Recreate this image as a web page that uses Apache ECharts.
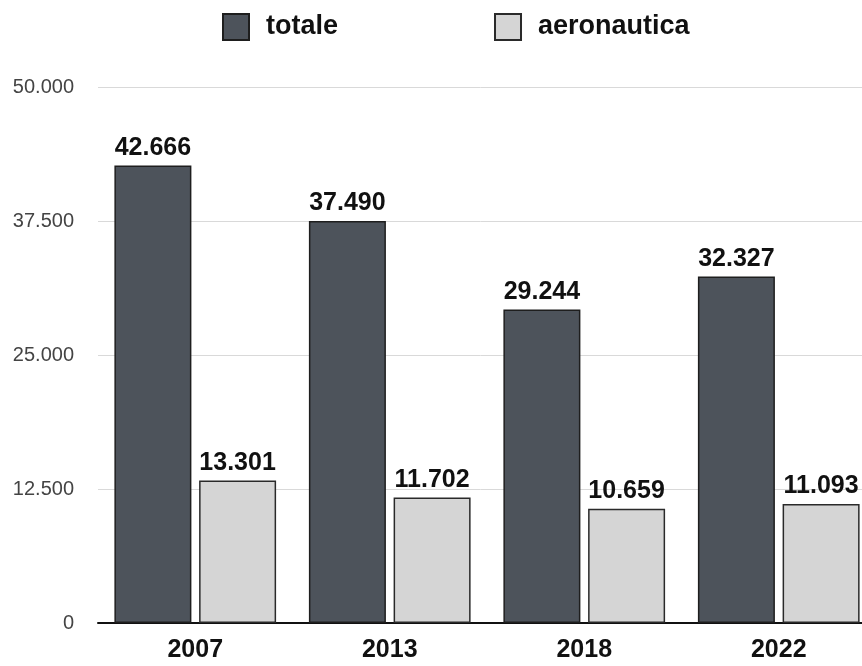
<!DOCTYPE html>
<html>
<head>
<meta charset="utf-8">
<script src="https://cdn.jsdelivr.net/npm/echarts@6/dist/echarts.min.js"></script>
<style>
html,body{margin:0;padding:0;background:#fff;}
#c{width:862px;height:666px;}
</style>
</head>
<body>
<div id="c"></div>
<script>
const categories = ['2007', '2013', '2018', '2022'];
const totale = [42666, 37490, 29244, 32327];
const aeronautica = [13301, 11702, 10659, 11093];
const seriesNames = ['totale', 'aeronautica'];

function fmt(v) {
  return String(Math.round(v)).replace(/\B(?=(\d{3})+(?!\d))/g, '.');
}

const FONT = '"Liberation Sans", Arial, Helvetica, sans-serif';
const chart = echarts.init(document.getElementById('c'));

const labelCfg = {
  show: true,
  position: 'top',
  distance: 5,
  color: '#111',
  fontWeight: 'bold',
  fontSize: 25,
  fontFamily: FONT,
  formatter: p => fmt(p.value)
};

chart.setOption({
  animation: false,
  backgroundColor: '#fff',
  legend: {
    top: 8,
    left: 217,
    itemWidth: 26,
    itemHeight: 26,
    itemGap: 156,
    icon: 'rect',
    data: seriesNames,
    textStyle: {
      fontSize: 27,
      fontWeight: 'bold',
      color: '#111',
      fontFamily: FONT,
      padding: [0, 0, 0, 12]
    }
  },
  grid: {
    left: 98,
    right: -14,
    top: 87,
    bottom: 43,
    outerBoundsMode: 'none',
    containLabel: false
  },
  xAxis: {
    type: 'category',
    data: categories,
    axisLine: { lineStyle: { color: '#111', width: 2 } },
    axisTick: { show: false },
    axisLabel: {
      margin: 15,
      fontSize: 25,
      fontWeight: 'bold',
      color: '#111',
      fontFamily: FONT
    }
  },
  yAxis: {
    type: 'value',
    min: 0,
    max: 50000,
    interval: 12500,
    axisLine: { show: false },
    axisTick: { show: false },
    splitLine: { lineStyle: { color: '#d9d9d9', width: 1 } },
    axisLabel: {
      margin: 24,
      fontSize: 20,
      color: '#444',
      fontFamily: FONT,
      formatter: v => fmt(v)
    }
  },
  series: [
    {
      name: seriesNames[0],
      type: 'bar',
      data: totale,
      barWidth: 77,
      barGap: '10%',
      itemStyle: { color: '#4d535b', borderColor: '#1e1e1e', borderWidth: 1.5 },
      label: labelCfg
    },
    {
      name: seriesNames[1],
      type: 'bar',
      data: aeronautica,
      barWidth: 77,
      barGap: '10%',
      itemStyle: { color: '#d5d5d5', borderColor: '#2a2a2a', borderWidth: 1.5 },
      label: labelCfg
    }
  ]
});
</script>
</body>
</html>
